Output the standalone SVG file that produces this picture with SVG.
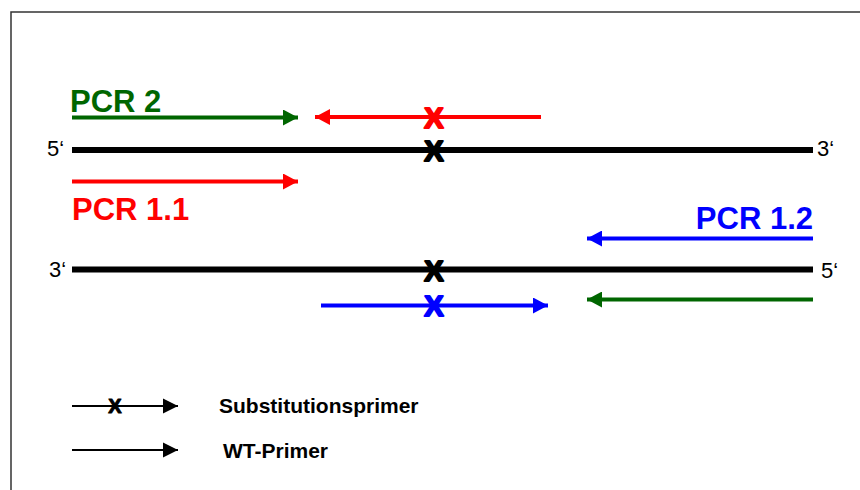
<svg xmlns="http://www.w3.org/2000/svg" width="860" height="490" viewBox="0 0 860 490">
<style>
.strand{stroke:#000;stroke-width:6;fill:none}
.pr{stroke-width:4;fill:none}
.leg{stroke:#000;stroke-width:2;fill:none}
.end{font-family:"Liberation Sans",Arial,sans-serif;font-size:22px;fill:#000}
.lab{font-family:"Liberation Sans",Arial,sans-serif;font-size:31px;font-weight:bold}
.x{font-family:"Liberation Sans",Arial,sans-serif;font-size:29px;font-weight:bold;text-anchor:middle;stroke-width:2;stroke-linejoin:round}
.legt{font-family:"Liberation Sans",Arial,sans-serif;font-size:21px;font-weight:bold;fill:#000}
</style>
<defs>
<marker id="hr" markerUnits="userSpaceOnUse" markerWidth="15" markerHeight="16" refX="15" refY="8" orient="auto"><path d="M0,0 L15,8 L0,16 z" fill="#FF0000"/></marker>
<marker id="hg" markerUnits="userSpaceOnUse" markerWidth="15" markerHeight="16" refX="15" refY="8" orient="auto"><path d="M0,0 L15,8 L0,16 z" fill="#006600"/></marker>
<marker id="hb" markerUnits="userSpaceOnUse" markerWidth="15" markerHeight="16" refX="15" refY="8" orient="auto"><path d="M0,0 L15,8 L0,16 z" fill="#0000FF"/></marker>
<marker id="hk" markerUnits="userSpaceOnUse" markerWidth="15" markerHeight="16" refX="15" refY="8" orient="auto"><path d="M0,0.5 L15,8 L0,15.5 z" fill="#000"/></marker>
</defs>
<rect x="11" y="12" width="900" height="500" fill="#fff" stroke="#333" stroke-width="1.5"/>
<g id="strand-top">
<line class="strand" x1="72" y1="150" x2="813" y2="150"/>
<text class="end" x="47" y="156">5‘</text>
<text class="end" x="817" y="156">3‘</text>
<text class="x" x="434" y="160.5" fill="#000" stroke="#000">X</text>
</g>
<g id="strand-bottom">
<line class="strand" x1="72" y1="269.5" x2="813" y2="269.5"/>
<text class="end" x="49" y="277">3‘</text>
<text class="end" x="821" y="278">5‘</text>
<text class="x" x="434" y="280.5" fill="#000" stroke="#000">X</text>
</g>
<g id="labels">
<text class="lab" x="70" y="112" fill="#006600">PCR 2</text>
<text class="lab" x="72" y="220" fill="#FF0000">PCR 1.1</text>
<text class="lab" x="813" y="229" fill="#0000FF" text-anchor="end">PCR 1.2</text>
</g>
<g id="connectors">
<line class="pr" stroke="#006600" x1="72" y1="117.5" x2="298" y2="117.5" marker-end="url(#hg)"/>
<line class="pr" stroke="#FF0000" x1="541" y1="117" x2="315" y2="117" marker-end="url(#hr)"/>
<line class="pr" stroke="#FF0000" x1="72" y1="181.5" x2="298" y2="181.5" marker-end="url(#hr)"/>
<line class="pr" stroke="#0000FF" x1="813" y1="238.5" x2="587" y2="238.5" marker-end="url(#hb)"/>
<line class="pr" stroke="#0000FF" x1="321" y1="305.5" x2="548" y2="305.5" marker-end="url(#hb)"/>
<line class="pr" stroke="#006600" x1="813" y1="299.5" x2="587" y2="299.5" marker-end="url(#hg)"/>
<line class="leg" x1="72" y1="406" x2="178" y2="406" marker-end="url(#hk)"/>
<line class="leg" x1="72" y1="450" x2="178" y2="450" marker-end="url(#hk)"/>
</g>
<g id="mutations">
<text class="x" x="434" y="127.5" fill="#FF0000" stroke="#FF0000">X</text>
<text class="x" x="434" y="315.5" fill="#0000FF" stroke="#0000FF">X</text>
<text class="x" x="115" y="413" fill="#000" stroke="#000" style="font-size:20px;stroke-width:1">X</text>
</g>
<g id="legend">
<text class="legt" x="219" y="413">Substitutionsprimer</text>
<text class="legt" x="223" y="458">WT-Primer</text>
</g>
</svg>
